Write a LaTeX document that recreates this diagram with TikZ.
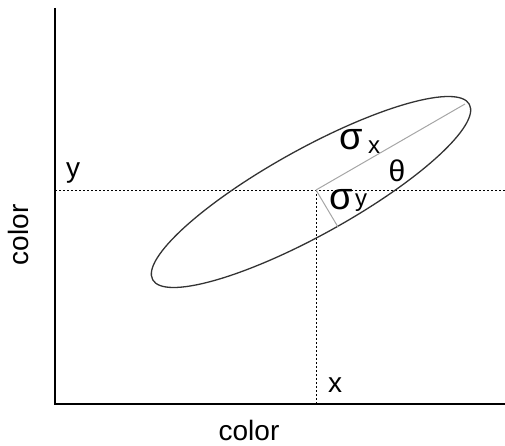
\documentclass[tikz,border=0pt]{standalone}
\usepackage{fontspec}
\setmainfont{Liberation Sans}
\begin{document}
\begin{tikzpicture}[x=1pt,y=-1pt,
  axis/.style={line width=1.5pt,black},
  guide/.style={line width=0.9pt,black,dash pattern=on 2pt off 2pt},
  ell/.style={line width=1.3pt,black!80},
  radius line/.style={line width=1pt,black!35},
  lab/.style={font=\fontsize{28}{30}\selectfont,inner sep=0pt},
  sub/.style={font=\fontsize{24}{26}\selectfont,inner sep=0pt},
  sym/.style={font=\fontsize{38}{40}\selectfont,inner sep=0pt}]
\useasboundingbox (0,0) rectangle (505,446);
\coordinate (O) at (55,404);
\coordinate (ytop) at (55,8);
\coordinate (xend) at (505,404);
\coordinate (yl) at (55,190);
\coordinate (yr) at (505,190);
\coordinate (C) at (316,190);
\coordinate (xb) at (316,404);
\coordinate (E) at (311,192);
\coordinate (maj) at (465,104);
\coordinate (min) at (338,227);
% axes
\draw[axis] (ytop) -- (O) -- (xend);
% guides
\draw[guide] (yl) -- (yr);
\draw[guide] (C) -- (xb);
% ellipse
\draw[ell,rotate around={29:(E)}] (E) ellipse[x radius=181pt, y radius=43pt];
% radii
\draw[radius line] (C) -- (maj);
\draw[radius line] (C) -- (min);
% labels
\node[lab] (ylab) at (73,173) {y};
\node[lab] (xlab) at (335,385) {x};
\node[lab,rotate=90] (cl) at (18,235) {color};
\node[lab] (cb) at (249,430) {color};
\node[sym] (sx) at (351,140) {σ};
\node[sub] (sxs) at (374,147) {x};
\node[sym] (sy) at (341,200) {σ};
\node[sub] (sys) at (361,203) {y};
\node[sym,font=\fontsize{30}{32}\selectfont] (th) at (397,171) {θ};
\end{tikzpicture}
\end{document}
